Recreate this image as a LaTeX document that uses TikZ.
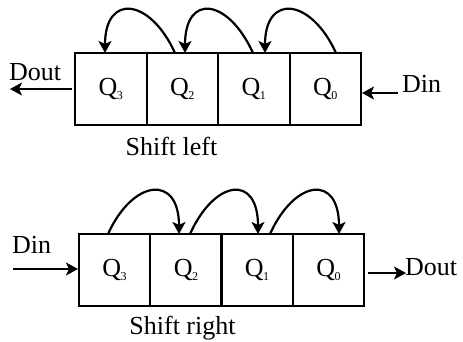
\documentclass[tikz,border=0pt]{standalone}
\usepackage{fontspec}
\setmainfont{Liberation Serif}
\usetikzlibrary{arrows.meta}
\begin{document}
\begin{tikzpicture}[x=1pt,y=1pt,
  cell/.style={draw,line width=2pt,minimum width=71.5pt,minimum height=72pt,inner sep=0pt,anchor=center,
    font=\fontsize{26}{30}\selectfont},
  lbl/.style={font=\fontsize{26}{30}\selectfont,inner sep=0pt},
  arr/.style={line width=2pt,-{Stealth[length=12pt,width=13pt,inset=3pt]}},
  cur/.style={line width=2.2pt,-{Stealth[length=12pt,width=13pt,inset=3pt]}}]
\newcommand{\qq}[1]{Q\kern-0.5pt\raisebox{-4pt}{\fontsize{12}{12}\selectfont #1}}
\useasboundingbox (0,0) rectangle (463,341);
% top register
\node[cell] (t3) at (110.75,252) {\qq{3}};
\node[cell] (t2) at (182.25,252) {\qq{2}};
\node[cell] (t1) at (253.75,252) {\qq{1}};
\node[cell] (t0) at (325.25,252) {\qq{0}};
\coordinate (a1) at (175,288); \coordinate (b1) at (105,288);
\coordinate (a2) at (253,288); \coordinate (b2) at (185,288);
\coordinate (a3) at (336,288); \coordinate (b3) at (265,288);
\draw[cur] (a1) .. controls ++(-25,55) and ++(0,60) .. (b1);
\draw[cur] (a2) .. controls ++(-25,55) and ++(0,60) .. (b2);
\draw[cur] (a3) .. controls ++(-25,55) and ++(0,60) .. (b3);
\coordinate (doutT) at (10,252);
\draw[arr] ([xshift=-2pt]t3.west) -- (doutT);
\node[lbl,anchor=base west] (doutTl) at (9,261) {Dout};
\coordinate (dinT) at (398,248);
\draw[arr] (dinT) -- (t0.east |- dinT);
\node[lbl,anchor=base west] (dinTl) at (402,249) {Din};
\node[lbl,anchor=base] (sl) at (171.5,186) {Shift left};
% bottom register
\node[cell,minimum width=71.25pt] (b3n) at (114.6,71) {\qq{3}};
\node[cell,minimum width=71.25pt] (b2n) at (185.9,71) {\qq{2}};
\node[cell,minimum width=71.25pt] (b1n) at (257.1,71) {\qq{1}};
\node[cell,minimum width=71.25pt] (b0n) at (328.4,71) {\qq{0}};
\coordinate (c1) at (108,107); \coordinate (d1) at (179,107);
\coordinate (c2) at (190,107); \coordinate (d2) at (258,107);
\coordinate (c3) at (270,107); \coordinate (d3) at (339,107);
\draw[cur] (c1) .. controls ++(25,55) and ++(0,60) .. (d1);
\draw[cur] (c2) .. controls ++(25,55) and ++(0,60) .. (d2);
\draw[cur] (c3) .. controls ++(25,55) and ++(0,60) .. (d3);
\coordinate (dinB) at (13,72);
\draw[arr] (dinB) -- (b3n.west |- dinB);
\node[lbl,anchor=base west] (dinBl) at (12,88) {Din};
\coordinate (doutB) at (406,68);
\draw[arr] ([xshift=3pt]b0n.east |- doutB) -- (doutB);
\node[lbl,anchor=base west] (doutBl) at (405,66) {Dout};
\node[lbl,anchor=base] (sr) at (182.5,7) {Shift right};
\end{tikzpicture}
\end{document}
